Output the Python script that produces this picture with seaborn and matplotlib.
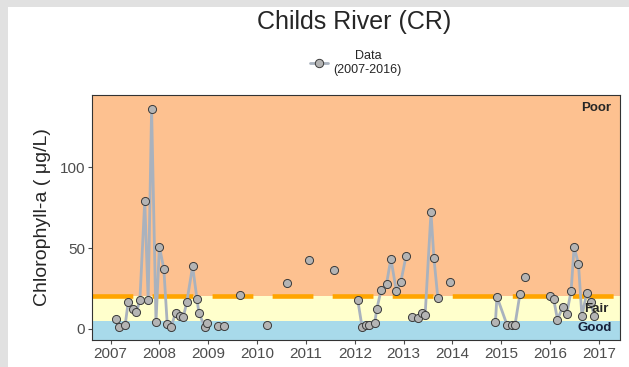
import numpy as np
import pandas as pd
import matplotlib
matplotlib.use('Agg')
import matplotlib.pyplot as plt
import seaborn as sns
from matplotlib.lines import Line2D
from matplotlib.patches import Rectangle

# sample dates (decimal year) and chlorophyll-a values; NaN marks a gap in the line
dates = [
    2007.11, 2007.17, 2007.30, 2007.36, 2007.45, 2007.53, 2007.60, 2007.70,
    2007.77, 2007.84, 2007.93, 2008.00, 2008.09, 2008.16, 2008.24, 2008.33,
    2008.42, 2008.49, 2008.56, 2008.68, 2008.77, 2008.81, 2008.93, 2008.98,
    2009.10,
    2009.20, 2009.26,
    2009.32, 2009.50,
    2009.65, 2010.00,
    2010.21, 2010.40,
    2010.62, 2010.80,
    2011.06, 2011.30,
    2011.58, 2011.80,
    2012.06, 2012.15, 2012.22, 2012.29, 2012.41, 2012.45, 2012.54, 2012.65,
    2012.74, 2012.85, 2012.94, 2013.05, 2013.10,
    2013.18, 2013.29, 2013.37, 2013.44, 2013.56, 2013.62, 2013.70, 2013.80,
    2013.94, 2014.40,
    2014.88, 2014.91, 2015.12, 2015.21, 2015.28, 2015.38, 2015.44,
    2015.49, 2015.70,
    2015.99, 2016.07, 2016.15, 2016.26, 2016.34, 2016.43, 2016.49, 2016.58,
    2016.65, 2016.75, 2016.83, 2016.90,
]
chla = [
    6.0, 0.8, 2.3, 16.3, 11.9, 10.3, 17.5, 79.4,
    17.5, 136.6, 4.1, 50.8, 37.2, 2.9, 1.2, 9.5,
    7.8, 7.2, 16.3, 38.7, 18.1, 9.5, 1.0, 3.5,
    np.nan,
    1.9, np.nan,
    1.9, np.nan,
    21.0, np.nan,
    2.5, np.nan,
    28.2, np.nan,
    42.4, np.nan,
    36.2, np.nan,
    17.9, 0.8, 2.3, 2.3, 3.7, 12.1, 23.9, 27.8,
    43.4, 23.4, 28.6, 45.1, np.nan,
    7.0, 6.6, 9.7, 8.2, 72.2, 43.8, 19.1, np.nan,
    29.2, np.nan,
    4.1, 19.8, 2.0, 2.0, 2.3, 21.2, np.nan,
    32.3, np.nan,
    20.0, 18.5, 5.6, 13.6, 9.3, 23.5, 50.8, 40.1,
    7.8, 22.2, 16.5, 7.8,
]

good_max = 5
fair_max = 20
year_ticks = list(range(2007, 2018))
y_ticks = [0, 50, 100]

df = pd.DataFrame({'date': dates, 'chla': chla})
df['segment'] = df['chla'].isna().cumsum()
df = df.dropna()

sns.set_style('white')
plt.rcParams['font.family'] = ['Liberation Sans', 'DejaVu Sans']

fig = plt.figure(figsize=(6.29, 3.67), dpi=100)
fig.patch.set_facecolor('#E1E1E1')
fig.patches.append(Rectangle((8 / 629, 0), 1, 360 / 367, transform=fig.transFigure,
                             facecolor='white', edgecolor='none', zorder=-1))
ax = fig.add_axes([92 / 629, 27 / 367, 528 / 629, 245 / 367])

ax.axhspan(-20, good_max, color='#A8DAEA', lw=0, zorder=0)
ax.axhspan(good_max, fair_max, color='#FFFFCC', lw=0, zorder=0)
ax.axhspan(fair_max, 300, color='#FDC190', lw=0, zorder=0)
thr = ax.axhline(fair_max, color='#FFA500', lw=3.3, zorder=1)
thr.set_dashes((8.9, 4.2))

sns.lineplot(data=df, x='date', y='chla', units='segment', estimator=None,
             color='#A9B2BE', lw=2, ax=ax, zorder=2, legend=False)
sns.scatterplot(data=df, x='date', y='chla', color='#B4B4B4', edgecolor='#3A3A3A',
                linewidth=0.7, s=34, ax=ax, zorder=3, legend=False)

ax.set_xlim(2006.62, 2017.43)
ax.set_ylim(-7.1, 145)
ax.set_xticks(year_ticks)
ax.set_yticks(y_ticks)
ax.tick_params(axis='both', labelsize=11, labelcolor='#4D4D4D', length=3,
               width=0.8, color='#4D4D4D', bottom=True, left=True, pad=2)
ax.set_xlabel('')
ax.set_ylabel('Chlorophyll-a ( μg/L)', fontsize=14, labelpad=6)
for s in ax.spines.values():
    s.set_color('#333333')
    s.set_linewidth(0.8)

ax.text(2016.95, 137, 'Poor', fontsize=9.5, fontweight='bold', ha='center', va='center')
ax.text(2016.95, 12.0, 'Fair', fontsize=9.5, fontweight='bold', ha='center', va='center')
ax.text(2016.92, 0.5, 'Good', fontsize=9.5, fontweight='bold', ha='center', va='center',
        color='#16213A')

fig.text(354 / 629, 1 - 22 / 367, 'Childs River (CR)', fontsize=18, ha='center', va='center')

handle = Line2D([], [], color='#A9B2BE', lw=2, marker='o', markersize=6,
                markerfacecolor='#B4B4B4', markeredgecolor='#3A3A3A', markeredgewidth=0.7)
leg = fig.legend([handle], ['Data\n(2007-2016)'], loc='center',
                 bbox_to_anchor=(356 / 629, 1 - 63 / 367), frameon=False,
                 fontsize=9, handlelength=1.4, handletextpad=0.5)
for t in leg.get_texts():
    t.set_multialignment('center')

fig.savefig('out.png', dpi=100)
